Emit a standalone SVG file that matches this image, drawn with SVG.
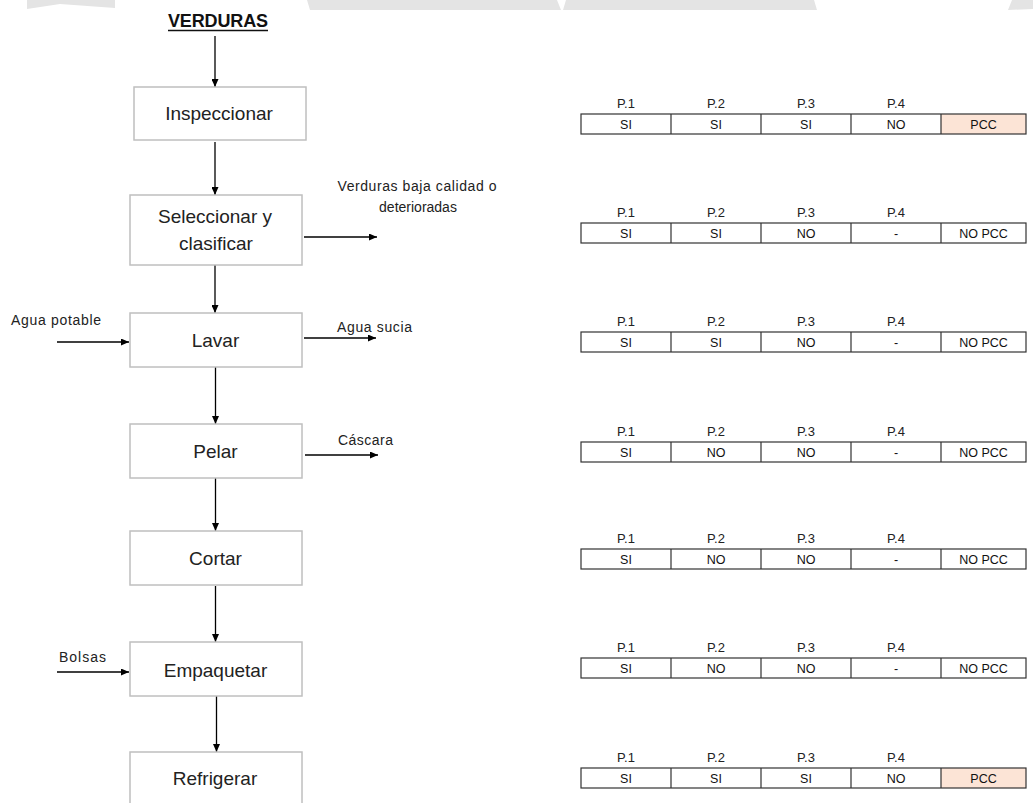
<svg xmlns="http://www.w3.org/2000/svg" width="1033" height="803" viewBox="0 0 1033 803">
<style>
.box{fill:#fff;stroke:#bfbfbf;stroke-width:1.5}
.bt{font-family:"Liberation Sans",Arial,sans-serif;font-size:19px;fill:#222;text-anchor:middle}
.lb{font-family:"Liberation Sans",Arial,sans-serif;font-size:14px;fill:#222}
.hd{font-family:"Liberation Sans",Arial,sans-serif;font-size:13px;fill:#222;text-anchor:middle}
.cl{font-family:"Liberation Sans",Arial,sans-serif;font-size:12.5px;fill:#111;text-anchor:middle}
.conn line{stroke:#000;stroke-width:1.3;marker-end:url(#ah)}
.tf{fill:none;stroke:#333;stroke-width:1.2}
.pcc{fill:#fce4d6}
.wm{fill:#e4e4e4}
</style>
<defs>
<marker id="ah" markerUnits="userSpaceOnUse" markerWidth="8" markerHeight="7" refX="8" refY="3.5" orient="auto">
<path d="M0,0 L8,3.5 L0,7 z" fill="#000"/>
</marker>
<g id="tframe">
<rect class="tf" x="581" y="0" width="445" height="20"/>
<path class="tf" d="M671,0V20M761,0V20M851,0V20M941,0V20"/>
</g>
<g id="thead">
<text class="hd" x="626" y="-6">P.1</text>
<text class="hd" x="716" y="-6">P.2</text>
<text class="hd" x="806" y="-6">P.3</text>
<text class="hd" x="896" y="-6">P.4</text>
</g>
</defs>
<rect width="1033" height="803" fill="#fff"/>
<g id="watermark">
<polygon class="wm" points="27,0 115,0 115,8 60,4 27,9"/>
<polygon class="wm" points="307,0 557,0 561,10 310,10"/>
<polygon class="wm" points="566,0 814,0 817,10 563,10"/>
<polygon class="wm" points="1012,0 1033,0 1033,9 1008,10"/>
</g>
<g id="title">
<text x="218" y="27" font-family="'Liberation Sans',Arial,sans-serif" font-size="18" font-weight="bold" fill="#111" text-anchor="middle" textLength="100">VERDURAS</text>
<line x1="168" y1="30.5" x2="268" y2="30.5" stroke="#111" stroke-width="1.5"/>
</g>
<g class="conn" id="connectors">
<line x1="215" y1="36" x2="215" y2="87"/>
<line x1="215" y1="142" x2="215" y2="195"/>
<line x1="215" y1="265" x2="215" y2="313"/>
<line x1="215.5" y1="367" x2="215.5" y2="424"/>
<line x1="215.5" y1="478" x2="215.5" y2="531"/>
<line x1="215.5" y1="586" x2="215.5" y2="642"/>
<line x1="216.5" y1="696" x2="216.5" y2="752"/>
<line x1="304" y1="237" x2="377" y2="237"/>
<line x1="57" y1="342" x2="129" y2="342"/>
<line x1="304" y1="338" x2="376" y2="338"/>
<line x1="305" y1="455" x2="378" y2="455"/>
<line x1="57" y1="672" x2="129" y2="672"/>
</g>
<g id="n-inspeccionar"><rect class="box" x="134" y="87" width="172" height="53"/><text class="bt" x="219" y="120">Inspeccionar</text></g>
<g id="n-seleccionar"><rect class="box" x="130" y="195" width="172" height="70"/><text class="bt" x="215" y="223">Seleccionar y</text><text class="bt" x="216" y="250">clasificar</text></g>
<g id="n-lavar"><rect class="box" x="130" y="313" width="172" height="54"/><text class="bt" x="215.5" y="347">Lavar</text></g>
<g id="n-pelar"><rect class="box" x="130" y="424" width="172" height="54"/><text class="bt" x="215.5" y="458">Pelar</text></g>
<g id="n-cortar"><rect class="box" x="130" y="531" width="172" height="54"/><text class="bt" x="215.5" y="565">Cortar</text></g>
<g id="n-empaquetar"><rect class="box" x="130" y="642" width="172" height="54"/><text class="bt" x="215.5" y="677">Empaquetar</text></g>
<g id="n-refrigerar"><rect class="box" x="130" y="752" width="172" height="60"/><text class="bt" x="215" y="785">Refrigerar</text></g>
<g id="l-verduras-baja"><text class="lb" x="417" y="191" text-anchor="middle" textLength="159">Verduras baja calidad o</text><text class="lb" x="418" y="212" text-anchor="middle">deterioradas</text></g>
<g id="l-agua-potable"><text class="lb" x="11" y="325" textLength="90">Agua potable</text></g>
<g id="l-agua-sucia"><text class="lb" x="337" y="332" textLength="75">Agua sucia</text></g>
<g id="l-cascara"><text class="lb" x="338" y="445" textLength="55">Cáscara</text></g>
<g id="l-bolsas"><text class="lb" x="59" y="662" textLength="47">Bolsas</text></g>
<g id="t1" transform="translate(0,114)">
<rect class="pcc" x="941" y="0" width="85" height="20"/>
<use href="#tframe"/><use href="#thead"/>
<text class="cl" x="626" y="15">SI</text><text class="cl" x="716" y="15">SI</text><text class="cl" x="806" y="15">SI</text><text class="cl" x="896" y="15">NO</text><text class="cl" x="983.5" y="15">PCC</text>
</g>
<g id="t2" transform="translate(0,223)">
<use href="#tframe"/><use href="#thead"/>
<text class="cl" x="626" y="15">SI</text><text class="cl" x="716" y="15">SI</text><text class="cl" x="806" y="15">NO</text><text class="cl" x="896" y="15">-</text><text class="cl" x="983.5" y="15">NO PCC</text>
</g>
<g id="t3" transform="translate(0,332)">
<use href="#tframe"/><use href="#thead"/>
<text class="cl" x="626" y="15">SI</text><text class="cl" x="716" y="15">SI</text><text class="cl" x="806" y="15">NO</text><text class="cl" x="896" y="15">-</text><text class="cl" x="983.5" y="15">NO PCC</text>
</g>
<g id="t4" transform="translate(0,442)">
<use href="#tframe"/><use href="#thead"/>
<text class="cl" x="626" y="15">SI</text><text class="cl" x="716" y="15">NO</text><text class="cl" x="806" y="15">NO</text><text class="cl" x="896" y="15">-</text><text class="cl" x="983.5" y="15">NO PCC</text>
</g>
<g id="t5" transform="translate(0,549)">
<use href="#tframe"/><use href="#thead"/>
<text class="cl" x="626" y="15">SI</text><text class="cl" x="716" y="15">NO</text><text class="cl" x="806" y="15">NO</text><text class="cl" x="896" y="15">-</text><text class="cl" x="983.5" y="15">NO PCC</text>
</g>
<g id="t6" transform="translate(0,658)">
<use href="#tframe"/><use href="#thead"/>
<text class="cl" x="626" y="15">SI</text><text class="cl" x="716" y="15">NO</text><text class="cl" x="806" y="15">NO</text><text class="cl" x="896" y="15">-</text><text class="cl" x="983.5" y="15">NO PCC</text>
</g>
<g id="t7" transform="translate(0,768)">
<rect class="pcc" x="941" y="0" width="85" height="20"/>
<use href="#tframe"/><use href="#thead"/>
<text class="cl" x="626" y="15">SI</text><text class="cl" x="716" y="15">SI</text><text class="cl" x="806" y="15">SI</text><text class="cl" x="896" y="15">NO</text><text class="cl" x="983.5" y="15">PCC</text>
</g>
</svg>
